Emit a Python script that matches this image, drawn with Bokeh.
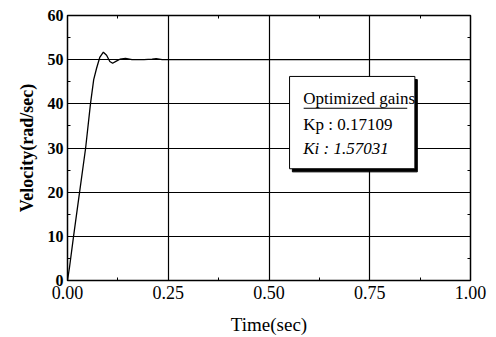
from bokeh.plotting import figure
from bokeh.models import LinearAxis, FixedTicker, Range1d, CustomJSTickFormatter
from bokeh.embed import file_html
from bokeh.resources import INLINE
from bokeh.core.properties import value

# data
time_s = [0.0, 0.005, 0.015, 0.03, 0.045, 0.057, 0.065, 0.072, 0.08, 0.089, 0.097, 0.105, 0.112,
          0.12, 0.13, 0.144, 0.16, 0.19, 0.21, 0.22, 0.235, 0.26, 0.3, 0.5, 0.75, 1.0]
velocity = [0.0, 3.0, 10.0, 20.0, 30.0, 40.0, 45.5, 48.0, 50.5, 51.7, 51.0, 49.6, 49.2,
            49.6, 50.1, 50.3, 50.0, 50.0, 50.1, 50.25, 50.0, 50.0, 50.0, 50.0, 50.0, 50.0]
x_ticks = [0.0, 0.25, 0.5, 0.75, 1.0]
x_minor = [0.125, 0.375, 0.625, 0.875]
x_tick_labels = ["0.00", "0.25", "0.50", "0.75", "1.00"]
y_ticks = [0, 10, 20, 30, 40, 50, 60]
y_minor = [5, 15, 25, 35, 45, 55]
x_title = "Time(sec)"
y_title = "Velocity(rad/sec)"
legend_title = "Optimized gains"
legend_kp = "Kp : 0.17109"
legend_ki = "Ki : 1.57031"

FONT = "Liberation Serif"

p = figure(width=496, height=337, output_backend="svg", toolbar_location=None,
           x_range=Range1d(0, 1), y_range=Range1d(0, 60),
           min_border_left=67, min_border_right=26, min_border_top=15, min_border_bottom=55)
p.background_fill_color = "white"
p.border_fill_color = "white"
p.outline_line_color = "black"
p.outline_line_width = 1.5

p.xaxis.ticker = FixedTicker(ticks=x_ticks, minor_ticks=x_minor)
p.xaxis.major_label_overrides = {t: l for t, l in zip(x_ticks, x_tick_labels)}
p.yaxis.ticker = FixedTicker(ticks=y_ticks, minor_ticks=y_minor)

for ax in (p.xaxis[0], p.yaxis[0]):
    ax.axis_line_color = "black"
    ax.major_tick_in = 4
    ax.major_tick_out = 0
    ax.minor_tick_in = 3
    ax.minor_tick_out = 0
    ax.major_label_text_font = FONT
    ax.major_label_text_color = "black"
    ax.axis_label_text_font = FONT
    ax.axis_label_text_color = "black"

p.xaxis.major_label_text_font_size = "18px"
p.xaxis.major_label_text_font_style = "normal"
p.xaxis.major_label_standoff = 5
p.yaxis.major_label_text_font_size = "16px"
p.yaxis.major_label_text_font_style = "bold"
p.yaxis.major_label_standoff = 4

p.xaxis.axis_label = x_title
p.xaxis.axis_label_text_font_size = "19px"
p.xaxis.axis_label_text_font_style = "normal"
p.xaxis.axis_label_standoff = 12

p.yaxis.axis_label = y_title
p.yaxis.axis_label_text_font_size = "18px"
p.yaxis.axis_label_text_font_style = "bold"
p.yaxis.axis_label_standoff = 8

for loc, tick, minor in (("above", x_ticks, x_minor), ("right", y_ticks, y_minor)):
    ax = LinearAxis(ticker=FixedTicker(ticks=tick, minor_ticks=minor),
                    formatter=CustomJSTickFormatter(code="return ''"),
                    major_tick_in=4, major_tick_out=0,
                    minor_tick_in=3, minor_tick_out=0, axis_line_color="black",
                    major_label_standoff=0)
    p.add_layout(ax, loc)

p.xgrid.ticker = FixedTicker(ticks=x_ticks)
p.ygrid.ticker = FixedTicker(ticks=y_ticks)
p.grid.grid_line_color = "black"
p.grid.grid_line_width = 1.2
p.grid.grid_line_alpha = 1.0

p.line(time_s, velocity, line_color="black", line_width=1.3)

# legend box with shadow
p.quad(left=[0.558], right=[0.868], top=[45.5], bottom=[24.6], fill_color="black", line_color="black")
p.quad(left=[0.551], right=[0.862], top=[46.2], bottom=[25.3], fill_color="white", line_color="black", line_width=1)

p.text(x=[0.585], y=[41.3], text=[legend_title], text_font=value(FONT), text_font_size="17px",
       text_color="black", text_baseline="middle")
p.segment(x0=[0.586], y0=[39.0], x1=[0.843], y1=[39.0], line_color="black", line_width=1.2)
p.text(x=[0.585], y=[35.4], text=[legend_kp], text_font=value(FONT), text_font_size="17px",
       text_color="black", text_baseline="middle")
p.text(x=[0.585], y=[29.9], text=[legend_ki], text_font=value(FONT), text_font_size="17px",
       text_font_style="italic", text_color="black", text_baseline="middle")

open("out.html", "w").write(file_html(p, INLINE))
